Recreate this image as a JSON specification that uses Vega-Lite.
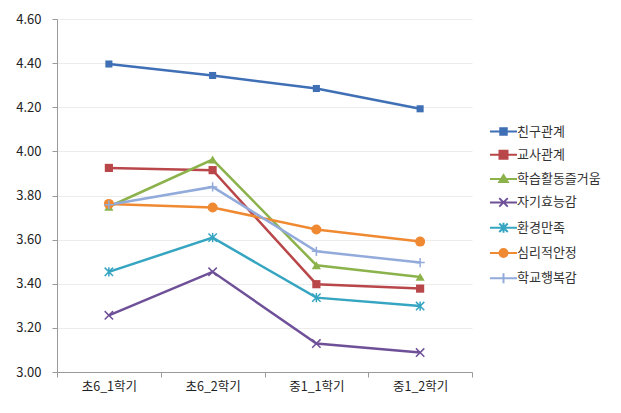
{
  "$schema": "https://vega.github.io/schema/vega-lite/v6.json",
  "width": 415,
  "height": 353,
  "autosize": {"type": "none"},
  "padding": {"left": 57, "top": 19, "right": 149, "bottom": 41},
  "background": "white",
  "config": {
    "view": {"stroke": null},
    "font": "Noto Sans CJK KR",
    "axis": {"labelFont": "Noto Sans CJK KR", "labelFontSize": 12, "labelColor": "#222222"}
  },
  "data": {
    "values": [
      {"series": "친구관계", "term": "초6_1학기", "value": 4.396},
      {"series": "친구관계", "term": "초6_2학기", "value": 4.344},
      {"series": "친구관계", "term": "중1_1학기", "value": 4.285},
      {"series": "친구관계", "term": "중1_2학기", "value": 4.193},
      {"series": "교사관계", "term": "초6_1학기", "value": 3.925},
      {"series": "교사관계", "term": "초6_2학기", "value": 3.915},
      {"series": "교사관계", "term": "중1_1학기", "value": 3.398},
      {"series": "교사관계", "term": "중1_2학기", "value": 3.378},
      {"series": "학습활동즐거움", "term": "초6_1학기", "value": 3.749},
      {"series": "학습활동즐거움", "term": "초6_2학기", "value": 3.963},
      {"series": "학습활동즐거움", "term": "중1_1학기", "value": 3.484},
      {"series": "학습활동즐거움", "term": "중1_2학기", "value": 3.431},
      {"series": "자기효능감", "term": "초6_1학기", "value": 3.257},
      {"series": "자기효능감", "term": "초6_2학기", "value": 3.454},
      {"series": "자기효능감", "term": "중1_1학기", "value": 3.129},
      {"series": "자기효능감", "term": "중1_2학기", "value": 3.088},
      {"series": "환경만족", "term": "초6_1학기", "value": 3.454},
      {"series": "환경만족", "term": "초6_2학기", "value": 3.609},
      {"series": "환경만족", "term": "중1_1학기", "value": 3.337},
      {"series": "환경만족", "term": "중1_2학기", "value": 3.299},
      {"series": "심리적안정", "term": "초6_1학기", "value": 3.762},
      {"series": "심리적안정", "term": "초6_2학기", "value": 3.746},
      {"series": "심리적안정", "term": "중1_1학기", "value": 3.646},
      {"series": "심리적안정", "term": "중1_2학기", "value": 3.591},
      {"series": "학교행복감", "term": "초6_1학기", "value": 3.758},
      {"series": "학교행복감", "term": "초6_2학기", "value": 3.839},
      {"series": "학교행복감", "term": "중1_1학기", "value": 3.547},
      {"series": "학교행복감", "term": "중1_2학기", "value": 3.496}
    ]
  },
  "encoding": {
    "x": {
      "field": "term", "type": "nominal",
      "sort": ["초6_1학기", "초6_2학기", "중1_1학기", "중1_2학기"],
      "scale": {"type": "band", "paddingInner": 0, "paddingOuter": 0},
      "axis": {"title": null, "labelAngle": 0, "tickBand": "extent", "domainColor": "#9a9a9a", "tickColor": "#9a9a9a", "tickSize": 5, "labelPadding": 3, "labelFontSize": 12.5, "grid": false}
    },
    "y": {
      "field": "value", "type": "quantitative",
      "scale": {"domain": [3.0, 4.6], "nice": false, "zero": false},
      "axis": {"title": null, "values": [3.0, 3.2, 3.4, 3.6, 3.8, 4.0, 4.2, 4.4, 4.6], "format": ".2f", "domainColor": "#9a9a9a", "tickColor": "#9a9a9a", "tickSize": 5, "labelPadding": 11, "labelFontSize": 13, "gridColor": "#ececec", "gridWidth": 1}
    },
    "color": {
      "field": "series", "type": "nominal",
      "scale": {
        "domain": ["친구관계", "교사관계", "학습활동즐거움", "자기효능감", "환경만족", "심리적안정", "학교행복감"],
        "range": ["#3F6FB5", "#B9474A", "#8CB24C", "#6E5098", "#35A5C1", "#F08A32", "#93ABDB"]
      }
    }
  },
  "layer": [
    {
      "mark": {"type": "line", "strokeWidth": 2.5},
      "encoding": {
        "color": {
          "field": "series", "type": "nominal",
          "legend": {
            "title": null, "orient": "none", "legendX": 440, "legendY": 106,
            "padding": 0, "rowPadding": 7.3, "symbolSize": 100, "symbolStrokeWidth": 2,
            "labelFont": "Noto Sans CJK KR", "labelFontSize": 13, "labelColor": "#333333", "labelOffset": 7,
            "symbolType": "M-2.7,0L2.7,0",
            "encode": {
              "symbols": {
                "update": {
                  "shape": {"signal": "datum.value === '친구관계' ? 'M-2.7,0L2.7,0M-0.65,-0.65L0.65,-0.65L0.65,0.65L-0.65,0.65Z' : datum.value === '교사관계' ? 'M-2.7,0L2.7,0M-0.8,-0.8L0.8,-0.8L0.8,0.8L-0.8,0.8Z' : datum.value === '학습활동즐거움' ? 'M-2.7,0L2.7,0M0,-0.8L0.85,0.6L-0.85,0.6Z' : datum.value === '자기효능감' ? 'M-2.7,0L2.7,0M-0.85,-0.85L0.85,0.85M-0.85,0.85L0.85,-0.85' : datum.value === '환경만족' ? 'M-2.7,0L2.7,0M-0.85,-0.85L0.85,0.85M-0.85,0.85L0.85,-0.85M0,-1L0,1' : datum.value === '심리적안정' ? 'M-2.7,0L2.7,0M-0.8,0A0.8,0.8,0,1,0,0.8,0A0.8,0.8,0,1,0,-0.8,0Z' : 'M-2.7,0L2.7,0M0,-1L0,1'"},
                  "fill": {"signal": "indexof(['자기효능감','환경만족','학교행복감'], datum.value) >= 0 ? 'transparent' : scale('color', datum.value)"},
                  "stroke": {"signal": "scale('color', datum.value)"},
                  "strokeWidth": {"value": 2}
                }
              }
            }
          }
        }
      }
    },
    {
      "transform": [{"filter": {"field": "series", "oneOf": ["친구관계", "교사관계", "학습활동즐거움", "심리적안정"]}}],
      "mark": {"type": "point", "filled": true, "opacity": 1},
      "encoding": {
        "shape": {
          "field": "series", "type": "nominal", "legend": null,
          "scale": {"domain": ["친구관계", "교사관계", "학습활동즐거움", "심리적안정"], "range": ["square", "square", "triangle-up", "circle"]}
        },
        "size": {
          "field": "series", "type": "nominal", "legend": null,
          "scale": {"domain": ["친구관계", "교사관계", "학습활동즐거움", "심리적안정"], "range": [50, 100, 90, 100]}
        }
      }
    },
    {
      "transform": [{"filter": {"field": "series", "oneOf": ["자기효능감", "환경만족", "학교행복감"]}}],
      "mark": {"type": "point", "filled": false, "opacity": 1, "strokeWidth": 1.5},
      "encoding": {
        "shape": {
          "field": "series", "type": "nominal", "legend": null,
          "scale": {"domain": ["자기효능감", "환경만족", "학교행복감"], "range": ["M-1,-1L1,1M-1,1L1,-1", "M-1,-1L1,1M-1,1L1,-1M0,-1.1L0,1.1", "M-1.1,0L1.1,0M0,-1.1L0,1.1"]}
        },
        "size": {"value": 70}
      }
    }
  ],
  "resolve": {"scale": {"shape": "independent", "size": "independent"}}
}
